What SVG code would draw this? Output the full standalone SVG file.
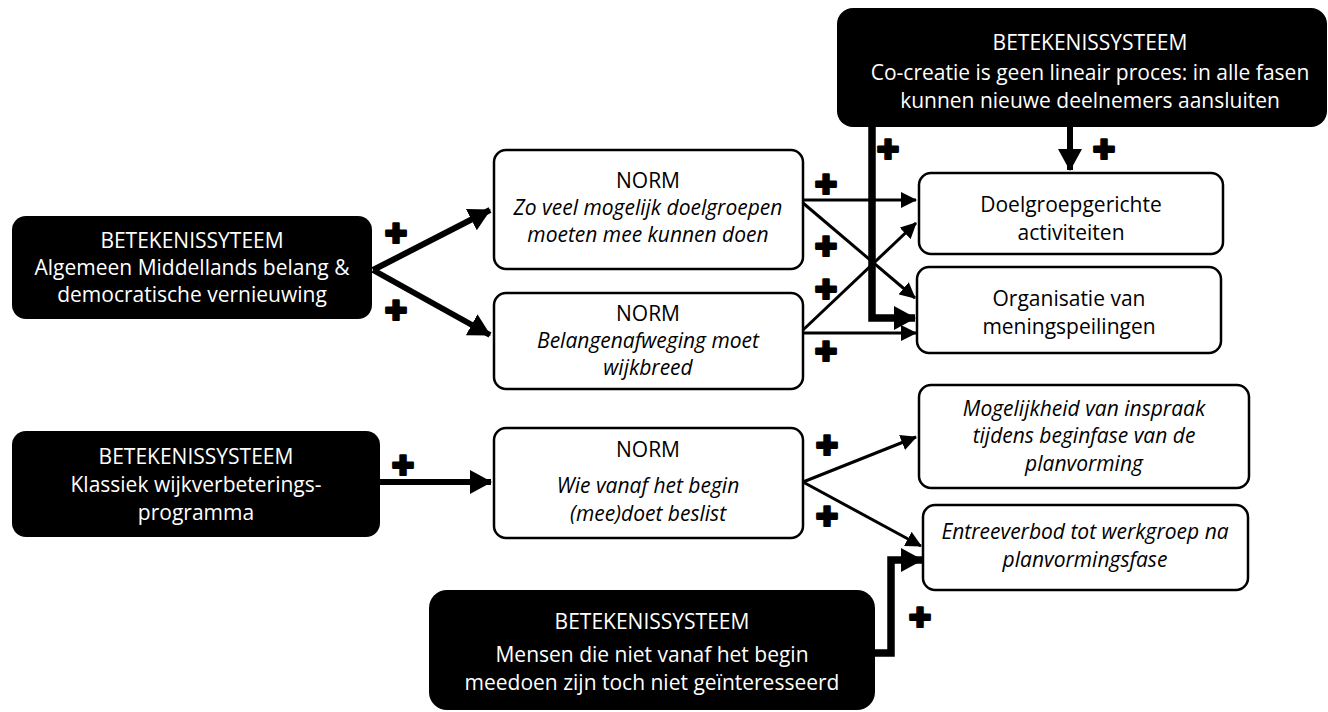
<svg xmlns="http://www.w3.org/2000/svg" width="1328" height="712" viewBox="0 0 1328 712">
<defs>
<style>
text{font-family:"Open Sans","Noto Sans","Liberation Sans",sans-serif;font-size:21px;text-anchor:middle}
.blk rect{fill:#000}
.blk text{fill:#fff}
.wht rect{fill:#fff;stroke:#000;stroke-width:2.5}
.wht text{fill:#000}
.it{font-style:italic}
.thin{fill:none;stroke:#000;stroke-width:3;marker-end:url(#ah)}
.thick{fill:none;stroke:#000;stroke-width:6;marker-end:url(#ahb)}
.heavy{fill:none;stroke:#000;stroke-width:7.5;stroke-linejoin:miter;marker-end:url(#ahb)}
.plus{font-family:"DejaVu Sans",sans-serif;font-size:27px;fill:#000;stroke:#000;stroke-width:2.2;stroke-linejoin:round}
</style>
<marker id="ah" markerUnits="userSpaceOnUse" viewBox="0 0 16 16" markerWidth="16" markerHeight="16" refX="15" refY="8" orient="auto"><path d="M0,0 L16,8 L0,16 z" fill="#000"/></marker>
<marker id="ahb" markerUnits="userSpaceOnUse" viewBox="0 0 22 24" markerWidth="22" markerHeight="24" refX="21" refY="12" orient="auto"><path d="M0,0 L22,12 L0,24 z" fill="#000"/></marker>
</defs>
<rect width="1328" height="712" fill="#fff"/>

<g id="connectors">
<path class="thick" d="M373,270 L490,210"/>
<path class="thick" d="M373,270 L490,335"/>
<path class="thick" d="M380,482 L491,482"/>
<path class="thin" d="M803,200 L916,200"/>
<path class="thin" d="M803,203 L915,298"/>
<path class="thin" d="M803,330 L916,223"/>
<path class="thin" d="M803,333 L916,333"/>
<path class="thin" d="M803,482 L916,437"/>
<path class="thin" d="M803,482 L921,546"/>
<path class="heavy" d="M872,127 V318 H915"/>
<path class="thick" d="M1070,127 V170"/>
<path class="heavy" d="M875,653 H891 V560 H922"/>
</g>

<g id="plus-signs">
<text class="plus" x="396" y="243">✚</text>
<text class="plus" x="396" y="320">✚</text>
<text class="plus" x="826" y="194">✚</text>
<text class="plus" x="826" y="256">✚</text>
<text class="plus" x="826" y="299">✚</text>
<text class="plus" x="826" y="361">✚</text>
<text class="plus" x="888" y="159">✚</text>
<text class="plus" x="1104" y="159">✚</text>
<text class="plus" x="403" y="475">✚</text>
<text class="plus" x="827" y="455">✚</text>
<text class="plus" x="827" y="526">✚</text>
<text class="plus" x="920" y="627">✚</text>
</g>

<g id="bs-middellands" class="blk">
<rect x="12" y="216" width="360" height="103" rx="14"/>
<text x="192" y="248">BETEKENISSYTEEM</text>
<text x="192" y="275">Algemeen Middellands belang &amp;</text>
<text x="192" y="302">democratische vernieuwing</text>
</g>

<g id="bs-klassiek" class="blk">
<rect x="12" y="431" width="368" height="106" rx="14"/>
<text x="196" y="464">BETEKENISSYSTEEM</text>
<text x="196" y="492">Klassiek wijkverbeterings-</text>
<text x="196" y="520">programma</text>
</g>

<g id="bs-cocreatie" class="blk">
<rect x="837" y="8" width="490" height="119" rx="16"/>
<text x="1090" y="50">BETEKENISSYSTEEM</text>
<text x="1090" y="80">Co-creatie is geen lineair proces: in alle fasen</text>
<text x="1090" y="108">kunnen nieuwe deelnemers aansluiten</text>
</g>

<g id="bs-mensen" class="blk">
<rect x="429" y="590" width="446" height="120" rx="18"/>
<text x="652" y="629">BETEKENISSYSTEEM</text>
<text x="652" y="662">Mensen die niet vanaf het begin</text>
<text x="652" y="690">meedoen zijn toch niet geïnteresseerd</text>
</g>

<g id="norm-doelgroepen" class="wht">
<rect x="494" y="150" width="309" height="119" rx="12"/>
<text x="648" y="188">NORM</text>
<text class="it" x="648" y="215">Zo veel mogelijk doelgroepen</text>
<text class="it" x="648" y="242">moeten mee kunnen doen</text>
</g>

<g id="norm-belangen" class="wht">
<rect x="494" y="293" width="309" height="96" rx="12"/>
<text x="648" y="321">NORM</text>
<text class="it" x="648" y="348">Belangenafweging moet</text>
<text class="it" x="648" y="375">wijkbreed</text>
</g>

<g id="norm-begin" class="wht">
<rect x="494" y="428" width="309" height="110" rx="12"/>
<text x="648" y="457">NORM</text>
<text class="it" x="648" y="493">Wie vanaf het begin</text>
<text class="it" x="648" y="521">(mee)doet beslist</text>
</g>

<g id="doelgroepgerichte" class="wht">
<rect x="919" y="173" width="304" height="81" rx="12"/>
<text x="1071" y="212">Doelgroepgerichte</text>
<text x="1071" y="240">activiteiten</text>
</g>

<g id="meningspeilingen" class="wht">
<rect x="917" y="267" width="304" height="86" rx="12"/>
<text x="1069" y="306">Organisatie van</text>
<text x="1069" y="334">meningspeilingen</text>
</g>

<g id="inspraak" class="wht">
<rect x="919" y="385" width="330" height="103" rx="12"/>
<text class="it" x="1084" y="416">Mogelijkheid van inspraak</text>
<text class="it" x="1084" y="443">tijdens beginfase van de</text>
<text class="it" x="1084" y="471">planvorming</text>
</g>

<g id="entreeverbod" class="wht">
<rect x="923" y="505" width="325" height="85" rx="12"/>
<text class="it" x="1085" y="539">Entreeverbod tot werkgroep na</text>
<text class="it" x="1085" y="567">planvormingsfase</text>
</g>
</svg>
